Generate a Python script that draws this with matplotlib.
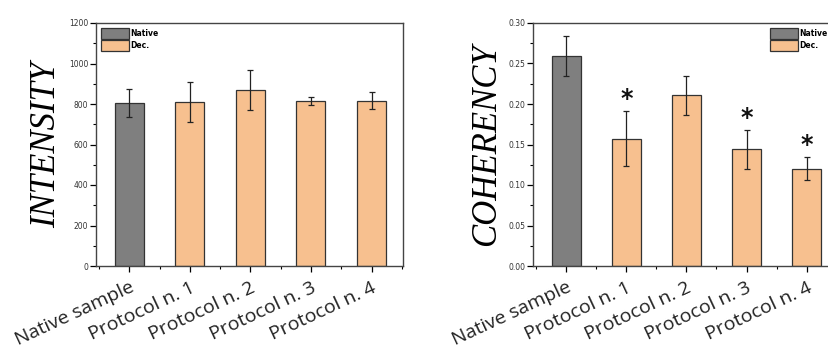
import matplotlib
matplotlib.use("Agg")
import matplotlib.pyplot as plt
from matplotlib.patches import Patch
from matplotlib.ticker import MultipleLocator, AutoMinorLocator, FormatStrFormatter

categories = ["Native sample", "Protocol n. 1", "Protocol n. 2", "Protocol n. 3", "Protocol n. 4"]
intensity = [805, 810, 868, 815, 815]
intensity_err = [70, 98, 98, 20, 42]
coherency = [0.259, 0.157, 0.211, 0.144, 0.120]
coherency_err = [0.025, 0.034, 0.024, 0.024, 0.014]
significant = [False, True, False, True, True]
legend_labels = ["Native", "Dec."]

native_col = "#7f7f7f"
dec_col = "#f7c08f"
edge = "#333333"
colors = [native_col] + [dec_col] * 4

W, H = 829, 352
fig = plt.figure(figsize=(W / 100, H / 100), dpi=100)

def make_ax(x0, x1, y0, y1):
    return fig.add_axes([x0 / W, 1 - y1 / H, (x1 - x0) / W, (y1 - y0) / H])

ax1 = make_ax(96, 403, 23, 266)
ax2 = make_ax(533, 838, 23, 266)

def style(ax, vals, errs, ymax, step, ylabel, legend_anchor):
    x = list(range(len(categories)))
    ax.bar(x, vals, width=0.48, color=colors, edgecolor=edge, linewidth=0.9, zorder=2)
    ax.errorbar(x, vals, yerr=errs, fmt="none", ecolor="#222222", elinewidth=0.9,
                capsize=2, capthick=0.9, zorder=3)
    ax.set_xlim(-0.55, 4.52)
    ax.set_ylim(0, ymax)
    ax.yaxis.set_major_locator(MultipleLocator(step))
    ax.yaxis.set_minor_locator(AutoMinorLocator(2))
    ax.set_xticks(x)
    ax.set_xticks([i + 0.5 for i in range(-1, len(categories))], minor=True)
    ax.set_xticklabels(categories, rotation=25, ha="right", rotation_mode="anchor",
                       fontsize=14, family="Open Sans", color="#222222")
    ax.tick_params(axis="x", which="major", direction="out", length=4, width=0.9, pad=5)
    ax.tick_params(axis="x", which="minor", direction="out", length=2, width=0.8)
    ax.tick_params(axis="y", which="major", direction="out", length=4, width=0.9,
                   labelsize=5.5, labelcolor="#333333", pad=1.5)
    ax.tick_params(axis="y", which="minor", direction="out", length=2, width=0.8)
    for s in ax.spines.values():
        s.set_linewidth(1.0)
        s.set_color("#444444")
    ax.set_ylabel(ylabel, family="Liberation Serif", style="italic", fontsize=25,
                  labelpad=4)
    handles = [Patch(facecolor=native_col, edgecolor=edge, linewidth=0.9),
               Patch(facecolor=dec_col, edgecolor=edge, linewidth=0.9)]
    ax.legend(handles, legend_labels, loc="upper left", bbox_to_anchor=legend_anchor,
              frameon=False, handlelength=3.6, handleheight=1.8,
              handletextpad=0.2, labelspacing=0.1, borderaxespad=0.3,
              prop={"weight": "bold", "size": 5.5})

style(ax1, intensity, intensity_err, 1200, 200, "INTENSITY", (0.0, 1.0))
style(ax2, coherency, coherency_err, 0.30, 0.05, "COHERENCY", (0.76, 1.0))
ax1.yaxis.set_major_formatter(FormatStrFormatter("%d"))
ax2.yaxis.set_major_formatter(FormatStrFormatter("%.2f"))

for i, (v, e, sig) in enumerate(zip(coherency, coherency_err, significant)):
    if sig:
        ax2.annotate("*", (i, v + e), xytext=(0, 0), textcoords="offset points",
                     ha="center", va="bottom", fontsize=17, fontweight="bold",
                     color="#111111")

fig.savefig("out.png", dpi=100)
